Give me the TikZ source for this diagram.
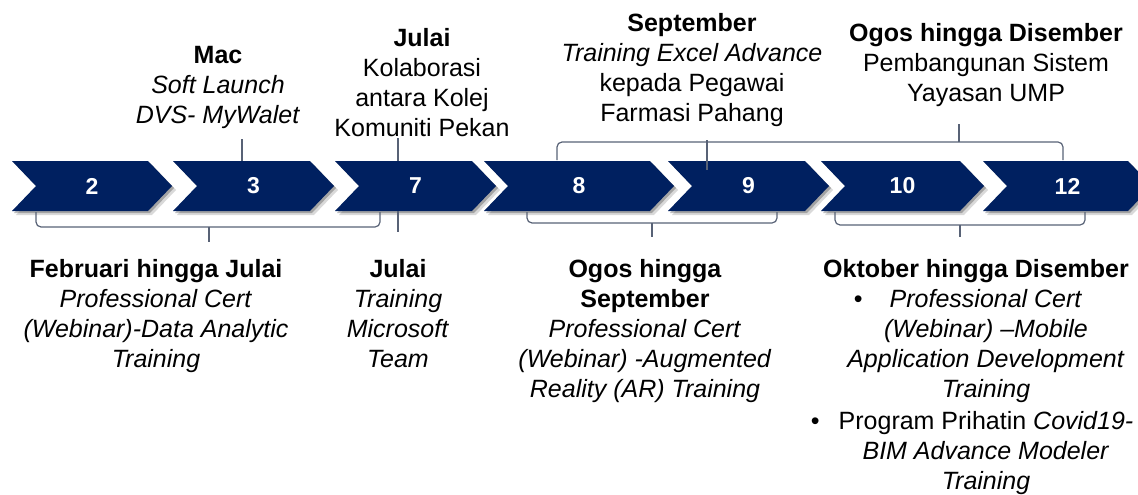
\documentclass[tikz,border=0pt]{standalone}
\usepackage{fontspec}
\setmainfont{Liberation Sans}
\usetikzlibrary{shadows}
\definecolor{navy}{RGB}{0,32,96}
\definecolor{slate}{RGB}{88,98,118}

\begin{document}
\begin{tikzpicture}[x=1pt, y=-1pt,
	every node/.style={font=\fontsize{25}{30}\selectfont, inner sep=0pt, align=center},
	chev/.style={fill=navy, drop shadow={shadow xshift=4pt, shadow yshift=-4pt, fill=black, opacity=0.15},
		drop shadow={shadow xshift=2pt, shadow yshift=-2pt, fill=black, opacity=0.25}},
	num/.style={text=white, font=\fontsize{23}{27}\selectfont\bfseries},
	bracket/.style={draw=slate, line width=1.2pt, rounded corners=5pt}]
	\useasboundingbox (0,0) rectangle (1138,495);
	\clip (0,0) rectangle (1138,495);
	\foreach \l/\r/\n in {12/148/2, 173/310/3, 335/472/7, 484/650/8, 668/805/9, 821/960/10, 983/1128/12} {
		\fill[chev] (\l,161) -- (\r,161) -- (\r+24,186) -- (\r,211) -- (\l,211) -- (\l+24,186) -- cycle;
		\node[num] (m\n) at ({(\l+\r)/2+12},186) {\n};
	}
	% above the arrows
	\node[anchor=north] (mac) at (218,46) {\textbf{Mac}\\\textit{Soft Launch}\\\textit{DVS- MyWalet}};
	\node[anchor=north] (julaiA) at (422,28) {\textbf{Julai}\\Kolaborasi\\antara Kolej\\Komuniti Pekan};
	\node[anchor=north] (sept) at (692,13) {\textbf{September}\\\textit{Training Excel Advance}\\kepada Pegawai\\Farmasi Pahang};
	\node[anchor=north] (ogosdis) at (986,23) {\textbf{Ogos hingga Disember}\\Pembangunan Sistem\\Yayasan UMP};
	\draw[bracket] (242,139) -- (242,161);
	\draw[bracket] (398,138) -- (398,161);
	\draw[bracket] (557,160) |- (959,142) -- (1063,142) -- (1063,160);
	\draw[bracket] (959,142) -- (959,124);
	\draw[bracket] (707,140) -- (707,170);
	% below the arrows
	\node[anchor=north] (febjul) at (156,259) {\textbf{Februari hingga Julai}\\\textit{Professional Cert}\\\textit{(Webinar)-Data Analytic}\\\textit{Training}};
	\node[anchor=north] (julaiB) at (398,259) {\textbf{Julai}\\\textit{Training}\\\textit{Microsoft}\\\textit{Team}};
	\node[anchor=north] (ogossep) at (645,259) {\textbf{Ogos hingga}\\\textbf{September}\\\textit{Professional Cert}\\\textit{(Webinar) -Augmented}\\\textit{Reality (AR) Training}};
	\node[anchor=north] (oktdis) at (976,259) {\textbf{Oktober hingga Disember}};
	\node[anchor=north] (oktlist) at (986,289) {\llap{•\hspace{27pt}}\textit{Professional Cert}\\\textit{(Webinar) –Mobile}\\\textit{Application Development}\\\textit{Training}\\[2pt]
		\llap{•\hspace{19pt}}Program Prihatin \textit{Covid19-}\\\textit{BIM Advance Modeler}\\\textit{Training}};
	\draw[bracket] (36,212) |- (209,227) -- (380,227) -- (380,212);
	\draw[bracket] (209,227) -- (209,242);
	\draw[bracket] (398,211) -- (398,232);
	\draw[bracket] (527,212) |- (652,223) -- (777,223) -- (777,212);
	\draw[bracket] (652,223) -- (652,237);
	\draw[bracket] (835,212) |- (960,225) -- (1085,225) -- (1085,212);
	\draw[bracket] (960,225) -- (960,237);
\end{tikzpicture}
\end{document}
